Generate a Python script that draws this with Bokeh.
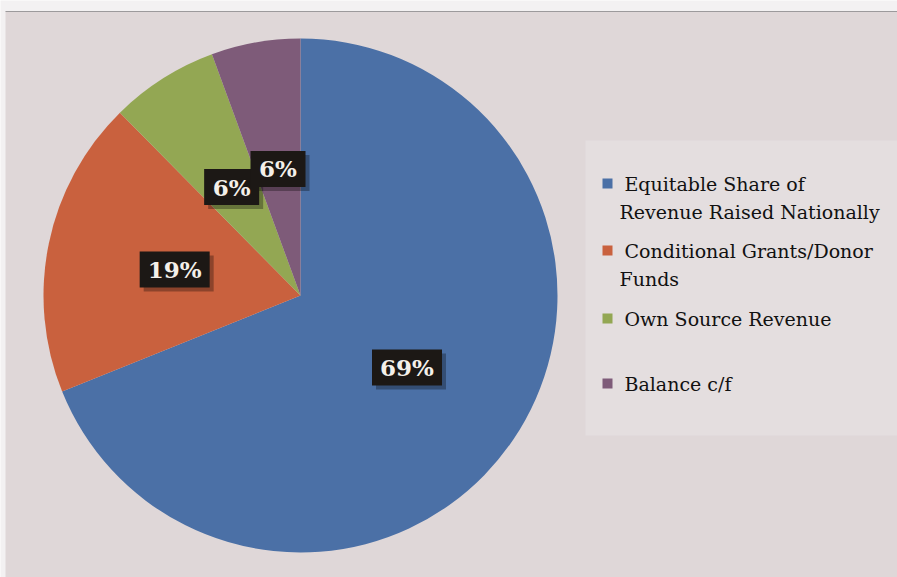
import numpy as np
from bokeh.plotting import figure
from bokeh.models import Range1d, ColumnDataSource
from bokeh.core.properties import value
from bokeh.embed import file_html
from bokeh.resources import INLINE

# ---- data ----
categories = ["Equitable Share of Revenue Raised Nationally",
              "Conditional Grants/Donor Funds",
              "Own Source Revenue",
              "Balance c/f"]
legend_lines = [["Equitable Share of", "Revenue Raised Nationally"],
                ["Conditional Grants/Donor", "Funds"],
                ["Own Source Revenue"],
                ["Balance c/f"]]
shares = [68.9, 18.7, 6.8, 5.6]
labels = ["69%", "19%", "6%", "6%"]
colors = ["#4b70a6", "#c9613e", "#93a753", "#7e5b79"]

W, H = 897, 577
def Y(y):
    return H - y

p = figure(width=W, height=H, x_range=Range1d(0, W), y_range=Range1d(0, H),
           output_backend="svg", toolbar_location=None, min_border=0)
p.axis.visible = False
p.grid.visible = False
p.outline_line_color = None
p.background_fill_color = "#f3f1f2"
p.border_fill_color = "#f3f1f2"

# page background (scanned chart area)
p.quad(left=[5], right=[W], bottom=[0], top=[Y(11)], fill_color="#dfd7d8", line_color=None)
p.segment(x0=[5], y0=[Y(11)], x1=[W], y1=[Y(11)], line_color="#9c9a9c", line_width=1.2)
# lighter legend area
p.quad(left=[585], right=[W], bottom=[Y(435)], top=[Y(140)], fill_color="#e4dedf", line_color=None)

# ---- pie ----
cx, cy, r = 300, Y(295), 257
frac = np.array(shares) / sum(shares)
cum = np.concatenate([[0], np.cumsum(frac)])
start = np.pi / 2 - 2 * np.pi * cum[:-1]
end = np.pi / 2 - 2 * np.pi * cum[1:]
src = ColumnDataSource(dict(start=start, end=end, color=colors))
p.wedge(x=cx, y=cy, radius=r, start_angle="start", end_angle="end", direction="clock",
        fill_color="color", line_color=None, source=src)

# ---- data labels ----
mid = (start + end) / 2
lx = cx + 0.5 * r * np.cos(mid)
ly = cy + 0.5 * r * np.sin(mid)
bw = np.array([15 * len(s) + 25 for s in labels])
bh = 36
p.rect(x=lx + 4, y=ly - 4, width=bw, height=bh, fill_color="#000000", fill_alpha=0.3, line_color=None)
p.rect(x=lx, y=ly, width=bw, height=bh, fill_color="#1c1815", line_color=None)
p.text(x=lx, y=ly, text=labels, text_color="#f4f0ea", text_font=value("DejaVu Serif"),
       text_font_style="bold", text_font_size="23px", text_align="center", text_baseline="middle")

# ---- legend ----
leg_y = [183, 250, 318, 383]
p.rect(x=[607] * 4, y=[Y(v) for v in leg_y], width=10, height=10, fill_color=colors, line_color=None)
tx, ty, tt = [], [], []
for yy, lines in zip(leg_y, legend_lines):
    for i, s in enumerate(lines):
        tx.append(624 if i == 0 else 619)
        ty.append(Y(yy + 28 * i))
        tt.append(s)
p.text(x=tx, y=ty, text=tt, text_color="#111111", text_font=value("DejaVu Serif"),
       text_font_size="19px", text_align="left", text_baseline="middle")

open("out.html", "w").write(file_html(p, INLINE))
